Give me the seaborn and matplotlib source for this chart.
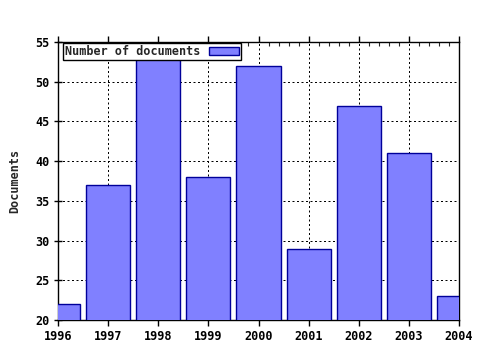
import matplotlib
matplotlib.use("Agg")
import matplotlib.pyplot as plt
import seaborn as sns
import pandas as pd
from matplotlib.patches import Patch
from matplotlib.ticker import MultipleLocator, FormatStrFormatter

years = [1996, 1997, 1998, 1999, 2000, 2001, 2002, 2003, 2004]
documents = [22, 37, 53, 38, 52, 29, 47, 41, 23]
series_label = "Number of documents"
y_label = "Documents"

sns.set_style("white")
plt.rcParams['font.family'] = ['DejaVu Sans Mono']
plt.rcParams['font.weight'] = 'bold'

df = pd.DataFrame({"year": years, "docs": documents})

fig = plt.figure(figsize=(4.8, 3.5), dpi=100)
ax = fig.add_axes([58/480, 30/350, 401/480, 278/350])

face = "#8080ff"
edge = "#000099"
sns.barplot(data=df, x="year", y="docs", native_scale=True, width=0.88,
            color=face, saturation=1, edgecolor=edge, linewidth=1, ax=ax, zorder=3)

ax.set_xlim(1996, 2004)
ax.set_ylim(20, 55)
ax.xaxis.set_major_locator(MultipleLocator(1))
ax.xaxis.set_minor_locator(MultipleLocator(0.2))
ax.xaxis.set_major_formatter(FormatStrFormatter('%d'))
ax.yaxis.set_major_locator(MultipleLocator(5))

ax.grid(True, which='major', color='black', linestyle=(0, (2, 2.5)), linewidth=0.72, zorder=1)
ax.set_axisbelow(True)

for s in ax.spines.values():
    s.set_color('black')
    s.set_linewidth(1.0)

ax.tick_params(axis='x', which='major', direction='out', length=4, width=1,
               top=True, bottom=True, labelsize=8.5, pad=3, colors='black')
ax.tick_params(axis='x', which='minor', direction='in', length=3, width=0.8,
               top=True, bottom=True)
ax.tick_params(axis='y', which='major', direction='inout', length=6, width=1,
               left=True, right=False, labelsize=8.5, pad=3, colors='black')

ax.set_xlabel("")
ax.set_ylabel(y_label, fontsize=8.5, fontweight='bold', labelpad=10)

leg = ax.legend(handles=[Patch(facecolor=face, edgecolor=edge, linewidth=1)],
                labels=[series_label], loc='upper left', bbox_to_anchor=(0.012, 0.995),
                fancybox=False, frameon=True, edgecolor='black', framealpha=1,
                markerfirst=False, borderpad=0.15, handlelength=2.5, handleheight=0.6,
                handletextpad=0.8, borderaxespad=0, prop={'size': 8.5, 'weight': 'bold'})
leg.get_frame().set_linewidth(1.0)

fig.savefig("out.png", dpi=100)
